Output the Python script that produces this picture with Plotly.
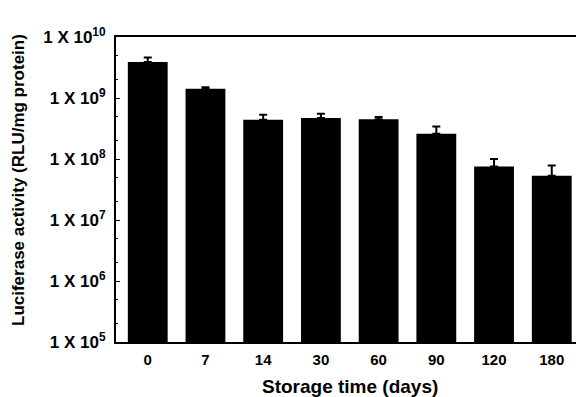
import plotly.graph_objects as go

categories = ["0", "7", "14", "30", "60", "90", "120", "180"]
values = [3.9e9, 1.42e9, 4.4e8, 4.7e8, 4.5e8, 2.6e8, 7.5e7, 5.3e7]
err_top = [4.6e9, 1.5e9, 5.3e8, 5.5e8, 4.9e8, 3.4e8, 1.0e8, 7.8e7]
tick_vals = [1e5, 1e6, 1e7, 1e8, 1e9, 1e10]
tick_text = ["1 X 10<sup>5</sup>", "1 X 10<sup>6</sup>", "1 X 10<sup>7</sup>",
             "1 X 10<sup>8</sup>", "1 X 10<sup>9</sup>", "1 X 10<sup>10</sup>"]

err_plus = [t - v for t, v in zip(err_top, values)]

fig = go.Figure(go.Bar(
    x=list(range(len(categories))), y=values,
    marker=dict(color="black", line=dict(width=0)),
    width=0.69,
    error_y=dict(type="data", array=err_plus, arrayminus=[0] * len(values),
                 symmetric=False, color="black", thickness=2, width=4),
))

font = "Liberation Sans, Arial, sans-serif"
fig.update_layout(
    width=576, height=397,
    margin=dict(l=116, r=0, t=37, b=55, autoexpand=False),
    plot_bgcolor="white", paper_bgcolor="white",
    showlegend=False,
    font=dict(family=font, color="black"),
    xaxis=dict(
        tickmode="array", tickvals=list(range(len(categories))), ticktext=categories,
        range=[-0.55, 7.42], showline=True, mirror=True, linecolor="black", linewidth=2,
        ticks="", showgrid=False, zeroline=False, automargin=False, ticklabelstandoff=3,
        tickfont=dict(size=15, family=font, weight="bold"),
    ),
    yaxis=dict(
        type="log", range=[5, 10], tickmode="array", tickvals=tick_vals, ticktext=tick_text,
        showline=True, linecolor="black", linewidth=2, mirror=False, automargin=False,
        ticks="inside", ticklen=4, tickcolor="black", tickwidth=1,
        minor=dict(ticks="inside", ticklen=2, tickcolor="black", showgrid=False),
        showgrid=False, zeroline=False, ticklabelstandoff=5,
        tickfont=dict(size=17, family=font, weight="bold"),
    ),
    annotations=[
        dict(text="<b>Storage time (days)</b>", xref="paper", yref="paper",
             x=(350 - 116) / 460, y=-(386 - 342) / 305, showarrow=False,
             font=dict(size=19), xanchor="center", yanchor="middle"),
        dict(text="<b>Luciferase activity (RLU/mg protein)</b>", xref="paper", yref="paper",
             x=-(116 - 18) / 460, y=(342 - 180) / 305, showarrow=False, textangle=-90,
             font=dict(size=17), xanchor="center", yanchor="middle"),
    ],
)

fig.write_html("out.html", config={"displayModeBar": False},
               post_script="document.body.style.margin='0';document.body.style.overflow='hidden';")
